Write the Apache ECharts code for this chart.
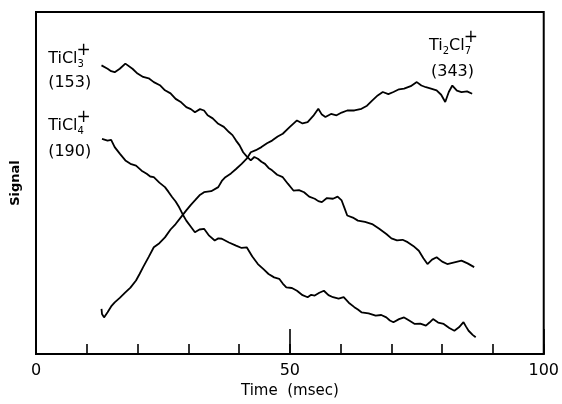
<!DOCTYPE html>
<html>
<head>
<meta charset="utf-8">
<script src="https://cdn.jsdelivr.net/npm/echarts@6/dist/echarts.min.js"></script>
<style>html,body{margin:0;padding:0;background:#fff}#c{width:562px;height:404px}</style>
</head>
<body>
<div id="c"></div>
<script>
// Time (msec) / Signal (arbitrary units, 0 = bottom of frame, 100 = top)
const ticl3 = [[12.9,84.4],[14.1,83.4],[14.8,82.7],[15.5,82.4],[16.5,83.4],[17.6,84.9],[19.0,83.4],[20.0,82.0],[21.1,81.0],[22.2,80.6],[23.2,79.5],[24.4,78.6],[25.4,77.1],[26.5,76.2],[27.5,74.6],[28.6,73.6],[29.6,72.2],[30.5,71.6],[31.3,70.7],[32.3,71.6],[33.1,71.2],[33.8,69.8],[34.8,68.9],[35.9,67.3],[37.0,66.4],[38.0,64.9],[38.7,64.0],[39.4,62.4],[40.1,61.0],[40.8,59.0],[41.5,57.8],[42.3,56.6],[43.0,57.6],[43.7,57.1],[44.4,56.2],[45.1,55.6],[45.8,54.4],[46.5,53.7],[47.5,52.4],[48.6,51.7],[49.6,49.8],[50.7,47.8],[51.8,47.9],[52.8,47.3],[53.8,46.0],[54.9,45.4],[55.6,44.7],[56.3,44.4],[57.3,45.6],[58.5,45.4],[59.4,46.0],[60.2,44.9],[60.8,42.5],[61.3,40.5],[62.4,39.9],[63.4,39.0],[64.8,38.6],[66.2,38.0],[67.6,36.6],[69.0,35.1],[70.0,33.8],[71.1,33.2],[72.2,33.4],[73.2,32.7],[74.3,31.6],[75.4,30.2],[76.3,28.0],[77.1,26.3],[78.0,27.6],[78.9,28.3],[80.0,27.0],[81.0,26.3],[82.4,26.8],[83.8,27.3],[85.0,26.5],[86.3,25.4]];
const ticl4 = [[13.0,62.9],[14.1,62.4],[14.8,62.6],[15.5,60.5],[16.5,58.6],[17.6,56.6],[18.6,55.6],[19.7,55.1],[20.8,53.6],[21.8,52.7],[22.5,51.9],[23.2,51.7],[24.3,50.1],[25.4,48.8],[26.1,47.4],[26.8,45.9],[27.5,44.6],[28.2,42.9],[28.9,40.8],[29.6,39.0],[30.5,37.2],[31.3,35.6],[32.2,36.4],[33.1,36.6],[34.1,34.6],[35.2,33.2],[35.9,33.8],[36.6,33.7],[38.0,32.6],[39.4,31.7],[40.5,31.0],[41.5,31.2],[42.6,28.5],[43.7,26.3],[44.8,24.8],[45.8,23.4],[46.9,22.4],[47.9,22.0],[48.6,20.6],[49.3,19.5],[50.4,19.3],[51.4,18.5],[52.5,17.2],[53.5,16.6],[54.2,17.3],[54.9,17.1],[55.8,17.9],[56.7,18.5],[57.6,17.2],[58.5,16.6],[59.6,16.2],[60.6,16.6],[61.6,15.0],[62.7,13.7],[63.4,13.0],[64.1,12.2],[65.5,11.9],[66.9,11.2],[68.0,11.4],[69.0,10.7],[69.7,9.8],[70.4,9.3],[71.5,10.2],[72.5,10.7],[73.5,9.8],[74.6,8.8],[75.7,8.9],[76.8,8.3],[77.5,9.2],[78.2,10.2],[79.2,9.2],[80.3,8.8],[81.4,7.6],[82.4,6.8],[83.3,7.8],[84.2,9.3],[84.7,8.0],[85.2,6.8],[86.0,5.6],[86.6,4.9]];
const ti2cl7 = [[12.9,13.2],[13.0,11.7],[13.4,10.7],[14.1,12.2],[14.8,13.9],[15.5,15.1],[16.5,16.4],[17.6,18.0],[18.6,19.4],[19.7,21.5],[20.4,23.4],[21.1,25.4],[22.2,28.4],[23.2,31.2],[24.3,32.4],[25.4,34.1],[26.5,36.4],[27.5,38.0],[28.6,40.1],[29.6,42.0],[30.5,43.6],[31.3,44.9],[32.2,46.4],[33.1,47.3],[34.5,47.6],[35.9,48.8],[36.6,50.6],[37.3,51.7],[38.4,52.8],[39.4,54.1],[40.5,55.6],[41.5,57.1],[42.3,59.0],[43.3,59.6],[44.4,60.5],[45.5,61.6],[46.5,62.4],[47.6,63.6],[48.6,64.4],[50.0,66.4],[51.4,68.3],[52.5,67.4],[53.5,67.8],[54.6,69.6],[55.6,71.7],[56.3,70.0],[57.0,69.3],[58.1,70.2],[59.2,69.8],[60.2,70.6],[61.3,71.2],[62.7,71.2],[64.1,71.7],[65.2,72.6],[66.2,74.1],[67.3,75.6],[68.3,76.6],[69.4,76.0],[70.4,76.6],[71.5,77.4],[72.5,77.6],[73.8,78.3],[75.0,79.5],[75.9,78.5],[76.8,78.0],[77.8,77.6],[78.9,77.1],[79.8,75.8],[80.6,73.7],[81.3,76.6],[82.0,78.5],[82.9,77.0],[83.8,76.6],[84.9,76.8],[85.9,76.1]];

const xTicks = [0, 50, 100];

// label anchors: [x, y] in data coords
const labelDefs = [
  {base: 'TiCl', sub: '3', sup: '+', second: '(153)', at: [2.4, 86.4], at2: [2.4, 79.4]},
  {base: 'TiCl', sub: '4', sup: '+', second: '(190)', at: [2.4, 66.8], at2: [2.4, 59.0]},
  {base: 'Ti', sub: '2', mid: 'Cl', sub2: '7', sup: '+', second: '(343)', at: [77.4, 90.2], at2: [77.8, 82.6]}
];

const chart = echarts.init(document.getElementById('c'), null, {renderer: 'canvas'});
const FONT = '"DejaVu Sans", sans-serif';
const lineStyle = {color: '#000', width: 1.8};
function mk(name, data) {
  return {type: 'line', name, data, showSymbol: false, symbol: 'none', lineStyle, animation: false, silent: true};
}
chart.setOption({
  animation: false,
  grid: {left: 36, right: 16, top: 12, bottom: 48, show: true, borderColor: '#000', borderWidth: 2},
  xAxis: [{
    type: 'value', min: 0, max: 100, interval: 10,
    axisLine: {show: true, lineStyle: {color: '#000', width: 2}},
    axisTick: {show: true, inside: true, length: 10, lineStyle: {color: '#000', width: 1.6}},
    axisLabel: {color: '#000', fontSize: 16, fontFamily: FONT, margin: 9,
      formatter: v => xTicks.indexOf(v) >= 0 ? String(v) : ''},
    splitLine: {show: false},
    name: 'Time  (msec)', nameLocation: 'middle', nameGap: 30,
    nameTextStyle: {color: '#000', fontSize: 15, fontFamily: FONT}
  }, {
    type: 'value', min: 0, max: 100, interval: 50, position: 'bottom',
    axisLine: {show: false},
    axisTick: {show: true, inside: true, length: 25, lineStyle: {color: '#000', width: 1.6}},
    axisLabel: {show: false}, splitLine: {show: false}
  }],
  yAxis: {
    type: 'value', min: 0, max: 100,
    axisLine: {show: false}, axisTick: {show: false}, axisLabel: {show: false}, splitLine: {show: false},
    name: 'Signal', nameLocation: 'middle', nameGap: 14, nameRotate: 90,
    nameTextStyle: {color: '#000', fontSize: 13, fontWeight: 'bold', fontFamily: FONT}
  },
  series: [mk('TiCl3+', ticl3), mk('TiCl4+', ticl4), mk('Ti2Cl7+', ti2cl7)]
});

// measure text widths
const cv = document.createElement('canvas').getContext('2d');
function w(t, size) { cv.font = size + 'px ' + FONT; return cv.measureText(t).width; }
const BS = 16, SS = 10, PS = 17;
const elements = [];
labelDefs.forEach(d => {
  const p = chart.convertToPixel({gridIndex: 0}, d.at);
  const p2 = chart.convertToPixel({gridIndex: 0}, d.at2);
  const txt = (t, x, y, size) => ({type: 'text', x, y, silent: true,
    style: {text: t, fill: '#000', font: size + 'px ' + FONT, textVerticalAlign: 'middle', textAlign: 'left'}});
  let x = p[0];
  elements.push(txt(d.base, x, p[1], BS));
  x += w(d.base, BS);
  if (d.mid) {
    elements.push(txt(d.sub, x, p[1] + 6, SS));
    x += w(d.sub, SS);
    elements.push(txt(d.mid, x, p[1], BS));
    x += w(d.mid, BS);
    elements.push(txt(d.sub2, x, p[1] + 6, SS));
  } else {
    elements.push(txt(d.sub, x, p[1] + 6, SS));
  }
  elements.push(txt(d.sup, x - 1, p[1] - 8, PS));
  elements.push(txt(d.second, p2[0], p2[1], BS));
});
chart.setOption({graphic: {elements}});
</script>
</body>
</html>
